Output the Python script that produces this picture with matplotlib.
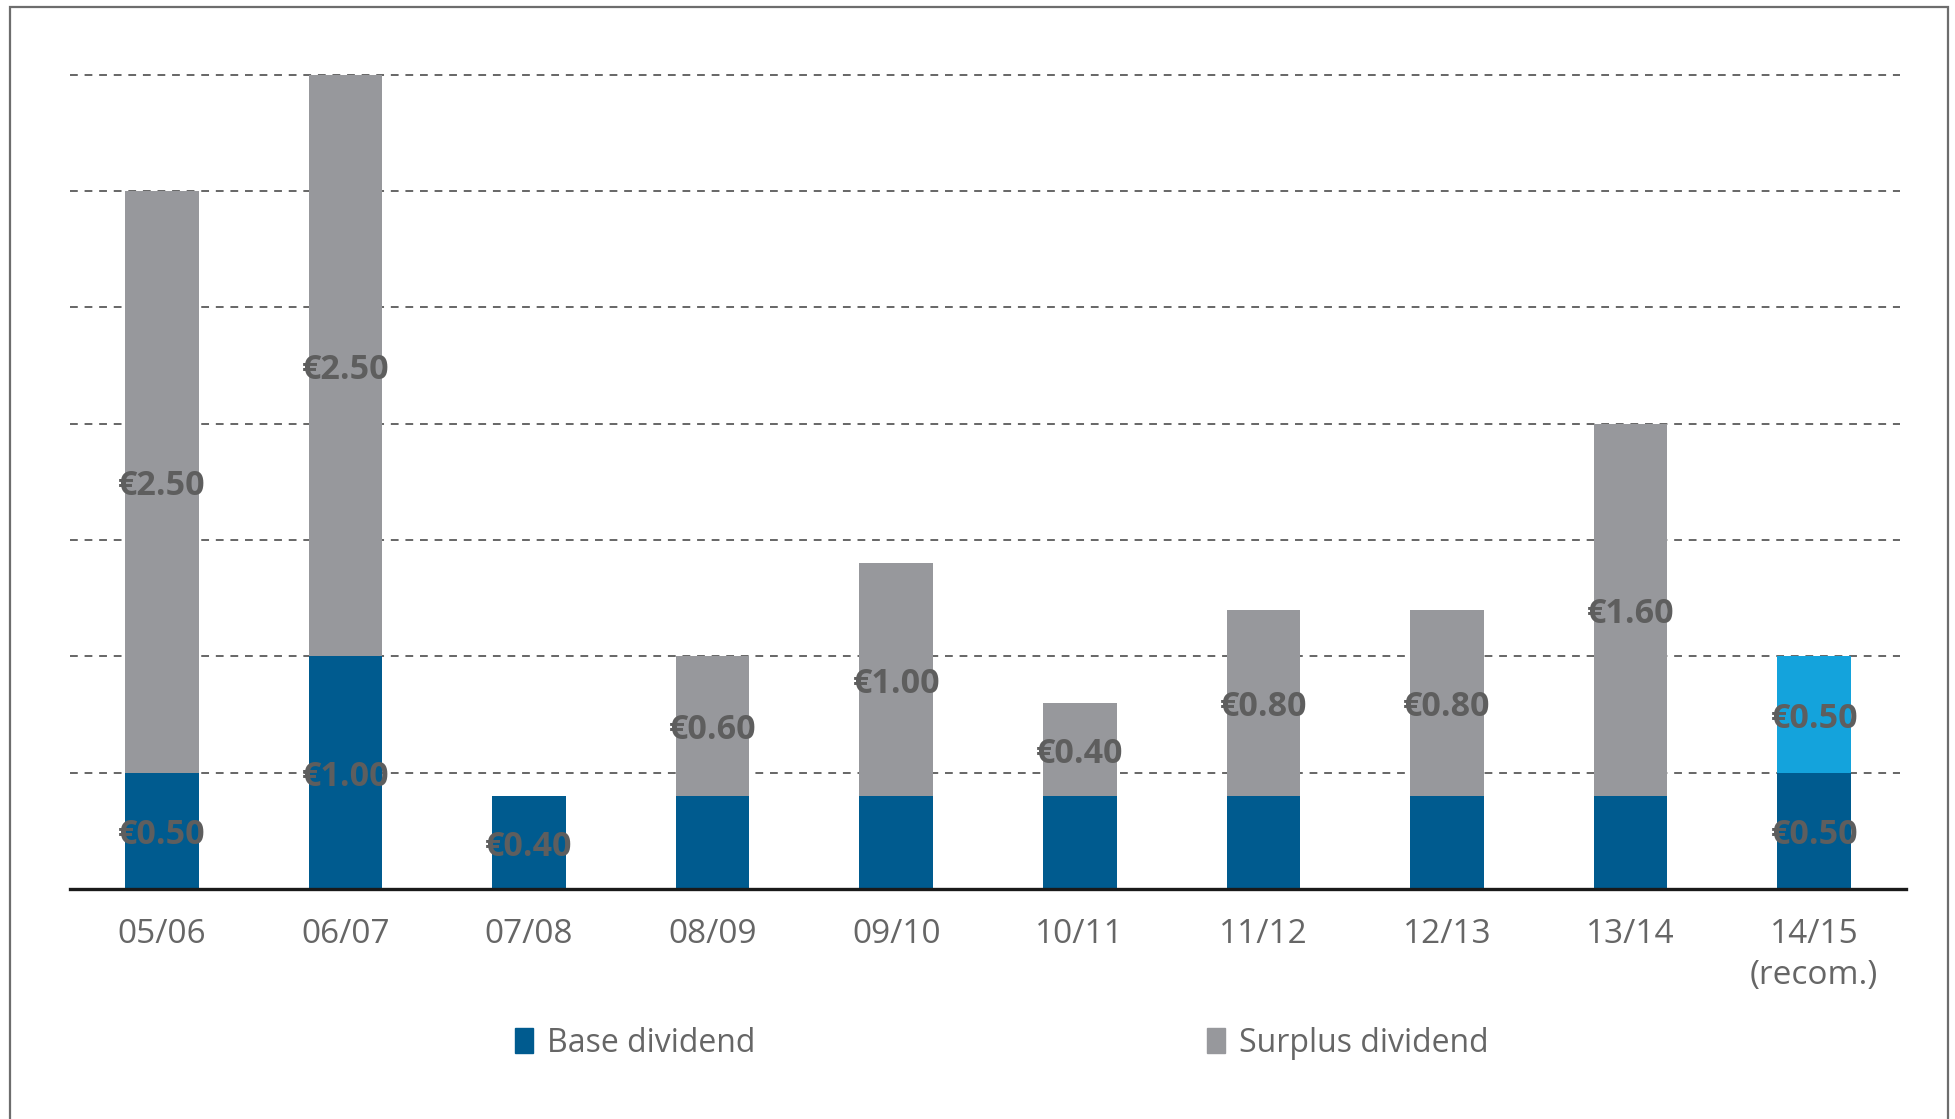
import matplotlib

matplotlib.use("Agg")
import matplotlib.pyplot as plt
from matplotlib.patches import Patch, Rectangle

plt.rcParams["font.family"] = ["Open Sans", "DejaVu Sans"]

# dividend per share, EUR
years = ["05/06", "06/07", "07/08", "08/09", "09/10", "10/11", "11/12", "12/13", "13/14", "14/15\n(recom.)"]
base = [0.50, 1.00, 0.40, 0.40, 0.40, 0.40, 0.40, 0.40, 0.40, 0.50]
surplus = [2.50, 2.50, 0.00, 0.60, 1.00, 0.40, 0.80, 0.80, 1.60, 0.50]
# base amount is only printed where it changed
base_labelled = [True, True, True, False, False, False, False, False, False, True]
grid_levels = [0.5, 1.0, 1.5, 2.0, 2.5, 3.0, 3.5]

BLUE = "#005b8f"
GREY = "#97989c"
LIGHT_BLUE = "#14a3dc"
TEXT = "#5e5e5e"

W, H = 1955, 1119
fig = plt.figure(figsize=(W / 100, H / 100), dpi=100)

# outer frame, open at the bottom
fig.patches.append(
    Rectangle((10 / W, -0.1), (1948 - 10) / W, 1.1 - 7 / H, transform=fig.transFigure,
              fill=False, edgecolor="#6d6d6d", linewidth=1.6)
)

unit = (889 - 74.8) / 3.5
ymax = 3.6
ax = fig.add_axes([70 / W, (H - 889) / H, (1906 - 70) / W, ymax * unit / H])

x = list(range(len(years)))
surplus_colors = [GREY] * (len(years) - 1) + [LIGHT_BLUE]

ax.hlines(grid_levels, -0.5, 9.467, colors="#666666", linestyles=(0, (4, 3.5)),
          linewidth=1.4, zorder=1)
ax.bar(x, base, width=0.4, color=BLUE, zorder=2)
ax.bar(x, surplus, width=0.4, bottom=base, color=surplus_colors, zorder=2)


def value_label(xpos, ypos, value):
    ax.annotate(f"€{value:.2f}", (xpos, ypos), xytext=(0, -3), textcoords="offset points",
                ha="center", va="center", fontsize=24.5, fontweight="bold",
                color=TEXT, zorder=3)


for i in x:
    if base_labelled[i]:
        value_label(i, base[i] / 2, base[i])
    if surplus[i] > 0:
        value_label(i, base[i] + surplus[i] / 2, surplus[i])

ax.set_xlim(-0.5, 9.5)
ax.set_ylim(0, ymax)
for side in ["top", "right", "left"]:
    ax.spines[side].set_visible(False)
ax.spines["bottom"].set_color("#1a1a1a")
ax.spines["bottom"].set_linewidth(2.4)
ax.set_yticks([])
ax.set_xticks(x)
ax.set_xticklabels(years, fontsize=24, color="#666666", linespacing=1.3)
ax.tick_params(axis="x", length=0, pad=21)

leg_kw = dict(frameon=False, fontsize=23, labelcolor="#666666", handlelength=0.55,
              handleheight=0.8, handletextpad=0.45, borderpad=0, borderaxespad=0,
              loc="center left")
leg1 = fig.legend(handles=[Patch(color=BLUE, label="Base dividend")],
                  bbox_to_anchor=(515 / W, (H - 1043) / H), **leg_kw)
leg2 = fig.legend(handles=[Patch(color=GREY, label="Surplus dividend")],
                  bbox_to_anchor=(1207 / W, (H - 1043) / H), **leg_kw)

fig.savefig("out.png", dpi=100)
